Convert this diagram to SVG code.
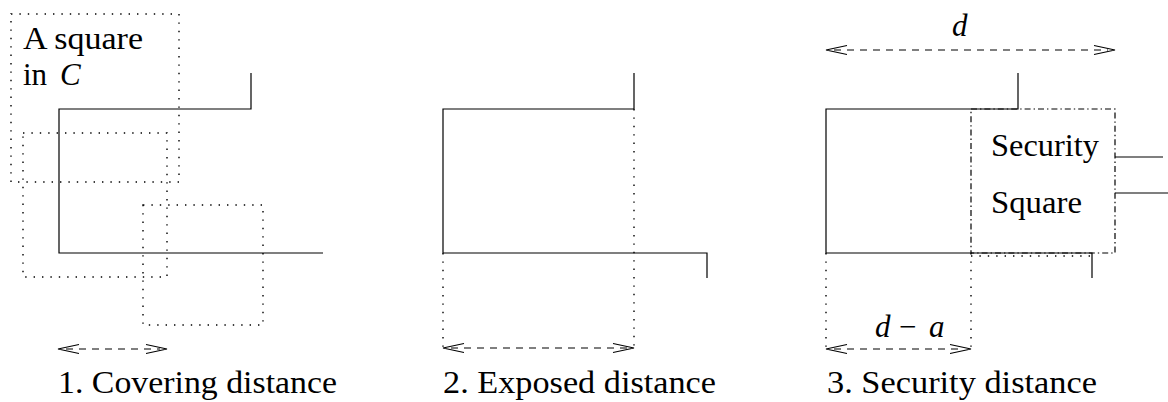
<svg xmlns="http://www.w3.org/2000/svg" width="1168" height="402" viewBox="0 0 1168 402">
<style>
.solid{fill:none;stroke:#000;stroke-width:1.2}
.dot{fill:none;stroke:#000;stroke-width:1.4;stroke-dasharray:1.4 7}
.dashdot{fill:none;stroke:#000;stroke-width:1.2;stroke-dasharray:6 3 1.4 3}
.dash{fill:none;stroke:#000;stroke-width:1.1;stroke-dasharray:7 6}
.head{fill:none;stroke:#000;stroke-width:1.1}
.t{font-family:"Liberation Serif","Times New Roman",serif;font-size:31px;fill:#000}
.it{font-style:italic}
</style>
<rect width="1168" height="402" fill="#fff"/>

<g id="panel1">
  <g id="square-in-C">
    <rect class="dot" x="11" y="14" width="168" height="168"/>
    <text class="t" x="23" y="49" textLength="120" lengthAdjust="spacingAndGlyphs">A square</text>
    <text class="t" x="23" y="85">in <tspan class="it" x="60">C</tspan></text>
  </g>
  <rect id="square-b" class="dot" x="23" y="133" width="144" height="144"/>
  <rect id="square-c" class="dot" x="143" y="205" width="120" height="120"/>
  <path id="shape1" class="solid" d="M251,73 V109 H59 V253 H323"/>
  <text id="label1" class="t" x="58" y="393" textLength="279" lengthAdjust="spacingAndGlyphs">1. Covering distance</text>
</g>

<g id="panel2">
  <path id="shape2" class="solid" d="M634,73 V109 H443 V253 H707 V278"/>
  <text id="label2" class="t" x="443" y="393" textLength="273" lengthAdjust="spacingAndGlyphs">2. Exposed distance</text>
</g>

<g id="panel3">
  <path id="shape3" class="solid" d="M1018,73 V109 H826 V253 H1092 V278 M1115,157 H1163 M1115,193 H1168"/>
  <g id="security-square">
    <rect class="dashdot" x="971" y="109" width="144" height="144"/>
    <path class="dot" d="M971,256 H1092"/>
    <text class="t" x="991" y="156" textLength="108" lengthAdjust="spacingAndGlyphs">Security</text>
    <text class="t" x="991" y="213" textLength="91" lengthAdjust="spacingAndGlyphs">Square</text>
  </g>
  <text id="label-d" class="t it" x="952" y="36">d</text>
  <text id="label-da" class="t"><tspan class="it" x="875" y="337">d</tspan><tspan x="899" y="337">−</tspan><tspan class="it" x="929" y="337">a</tspan></text>
  <text id="label3" class="t" x="827" y="393" textLength="270" lengthAdjust="spacingAndGlyphs">3. Security distance</text>
</g>

<g id="connectors">
  <path class="dot" d="M634,109 V348 M443,253 V348"/>
  <path class="dot" d="M826,253 V348 M971,253 V348"/>
  <g id="arrow1">
    <path class="dash" d="M66,349 H160"/>
    <path class="head" d="M79,344.5 L58,349 L79,353.5 M146,344.5 L167,349 L146,353.5"/>
  </g>
  <g id="arrow2">
    <path class="dash" d="M451,348 H627"/>
    <path class="head" d="M464,343.5 L443,348 L464,352.5 M613,343.5 L634,348 L613,352.5"/>
  </g>
  <g id="arrow-d">
    <path class="dash" d="M834,50 H1108"/>
    <path class="head" d="M847,45.5 L826,50 L847,54.5 M1094,45.5 L1115,50 L1094,54.5"/>
  </g>
  <g id="arrow-da">
    <path class="dash" d="M834,349 H964"/>
    <path class="head" d="M847,344.5 L826,349 L847,353.5 M950,344.5 L971,349 L950,353.5"/>
  </g>
</g>
</svg>
